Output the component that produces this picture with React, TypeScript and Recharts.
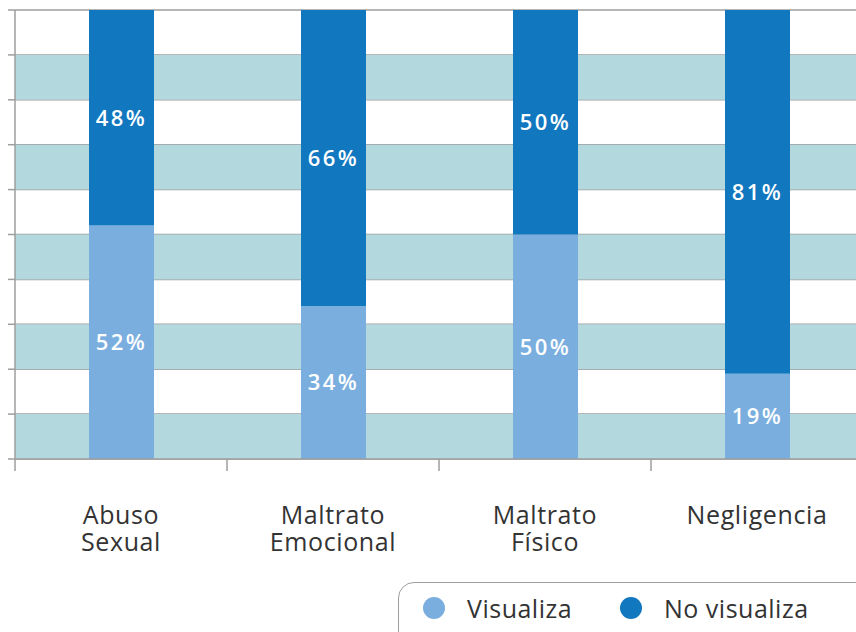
import React from 'react';
import { BarChart, Bar, XAxis, YAxis, CartesianGrid, ReferenceArea, LabelList } from 'recharts';

const categories = ['Abuso Sexual', 'Maltrato Emocional', 'Maltrato Físico', 'Negligencia'];
const visualiza = [52, 34, 50, 19];
const noVisualiza = [48, 66, 50, 81];
const yTicks = [0, 10, 20, 30, 40, 50, 60, 70, 80, 90, 100];

const data = categories.map((name, i) => ({
  name,
  visualiza: visualiza[i],
  noVisualiza: noVisualiza[i],
}));

const LIGHT = '#7aaede';
const DARK = '#1177bf';
const BAND = '#b3d8de';
const GRID = '#9e9e9e';
const FONT = '"Open Sans", sans-serif';

const CategoryTick = (props: any) => {
  const { x, y, payload } = props;
  const off = payload.offset ?? 106;
  const lines = String(payload.value).split(' ');
  return (
    <g>
      <line x1={x - off} x2={x - off} y1={y - 12} y2={y} stroke={GRID} strokeWidth={1.5} />
      <text x={x} y={y + 53} textAnchor="middle" fill="#333" fontSize={25} letterSpacing={0.6} fontFamily={FONT}>
        {lines.map((l, i) => (
          <tspan key={i} x={x} dy={i === 0 ? 0 : 27}>
            {l}
          </tspan>
        ))}
      </text>
    </g>
  );
};

const pct = (v: any) => `${v}%`;

export default function App() {
  // teal stripes on every other 10% band, starting from the bottom
  const bands = yTicks.filter((t) => t % 20 === 0 && t < 100);

  const labelStyle = {
    fill: '#fff',
    fontSize: 22,
    fontWeight: 600,
    fontFamily: FONT,
    letterSpacing: 2.5,
  };

  return (
    <div style={{ position: 'absolute', left: 0, top: 0, width: 856, height: 632, overflow: 'hidden', background: '#fff' }}>
      <BarChart
        width={870}
        height={632}
        data={data}
        margin={{ top: 10, right: 7, left: 8, bottom: 73 }}
      >
        {bands.map((b) => (
          <ReferenceArea key={b} y1={b} y2={b + 10} fill={BAND} fillOpacity={1} stroke="none" />
        ))}
        <CartesianGrid vertical={false} stroke={GRID} strokeWidth={1.5} />
        <XAxis
          dataKey="name"
          height={100}
          axisLine={{ stroke: GRID, strokeWidth: 1.5 }}
          tickLine={false}
          tickSize={12}
          tickMargin={0}
          interval={0}
          tick={<CategoryTick />}
        />
        <YAxis
          width={7}
          domain={[0, 100]}
          ticks={yTicks}
          tickSize={7}
          tickFormatter={() => ''}
          axisLine={{ stroke: GRID, strokeWidth: 1.5 }}
          tickLine={{ stroke: GRID, strokeWidth: 1.5 }}
        />
        <Bar dataKey="visualiza" stackId="a" fill={LIGHT} barSize={65} isAnimationActive={false}>
          <LabelList dataKey="visualiza" position="center" formatter={pct} {...labelStyle} />
        </Bar>
        <Bar dataKey="noVisualiza" stackId="a" fill={DARK} barSize={65} isAnimationActive={false}>
          <LabelList dataKey="noVisualiza" position="center" formatter={pct} {...labelStyle} />
        </Bar>
      </BarChart>
      <div
        style={{
          position: 'absolute',
          left: 398,
          top: 582,
          width: 500,
          height: 80,
          border: `1px solid ${GRID}`,
          borderRadius: 16,
          boxSizing: 'border-box',
        }}
      />
      {[
        { label: 'Visualiza', color: LIGHT, left: 423 },
        { label: 'No visualiza', color: DARK, left: 620 },
      ].map((it) => (
        <div
          key={it.label}
          style={{
            position: 'absolute',
            left: it.left,
            top: 594,
            display: 'flex',
            alignItems: 'center',
            fontFamily: FONT,
            fontSize: 25,
            letterSpacing: 0.5,
            color: '#333',
            lineHeight: '28px',
            whiteSpace: 'nowrap',
          }}
        >
          <span style={{ width: 22, height: 22, borderRadius: 11, background: it.color, display: 'inline-block', marginRight: 22 }} />
          {it.label}
        </div>
      ))}
    </div>
  );
}
